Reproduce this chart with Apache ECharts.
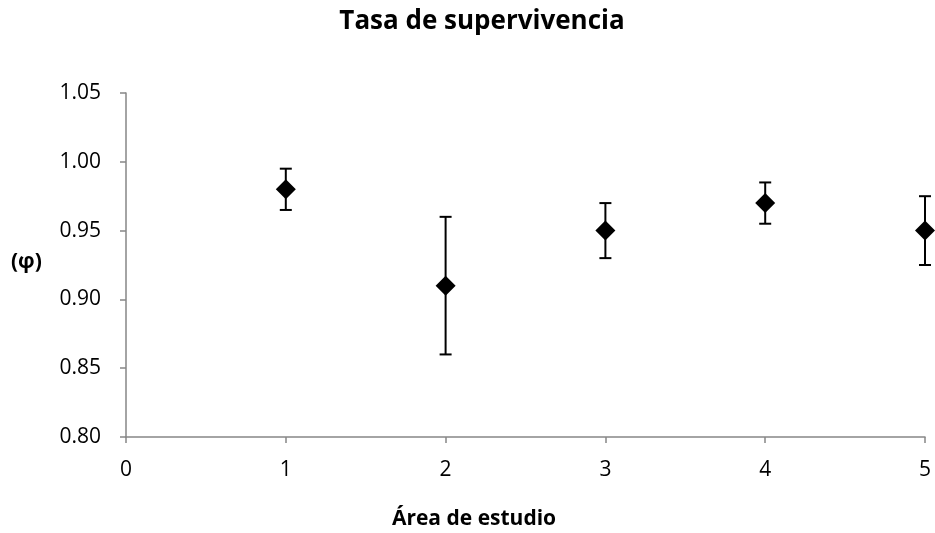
<!DOCTYPE html>
<html>
<head>
<meta charset="utf-8">
<script src="https://cdn.jsdelivr.net/npm/echarts@6/dist/echarts.min.js"></script>
<style>
  html, body { margin: 0; padding: 0; background: #fff; }
  #chart { width: 935px; height: 533px; }
</style>
</head>
<body>
<div id="chart"></div>
<script>
var areas = [1, 2, 3, 4, 5];
var survival = [0.98, 0.91, 0.95, 0.97, 0.95];
var errLow = [0.965, 0.86, 0.93, 0.955, 0.925];
var errHigh = [0.995, 0.96, 0.97, 0.985, 0.975];

var font = '"Open Sans", "Liberation Sans", sans-serif';

var points = [];
var bars = [];
for (var i = 0; i < areas.length; i++) {
    points.push([areas[i], survival[i]]);
    bars.push([areas[i], errLow[i], errHigh[i]]);
}

function renderErrorBar(params, api) {
    var x = api.value(0);
    var lo = api.coord([x, api.value(1)]);
    var hi = api.coord([x, api.value(2)]);
    var half = 6;
    var style = { stroke: '#000', lineWidth: 2 };
    return {
        type: 'group',
        children: [
            { type: 'line', shape: { x1: lo[0], y1: lo[1], x2: hi[0], y2: hi[1] }, style: style },
            { type: 'line', shape: { x1: hi[0] - half, y1: hi[1], x2: hi[0] + half, y2: hi[1] }, style: style },
            { type: 'line', shape: { x1: lo[0] - half, y1: lo[1], x2: lo[0] + half, y2: lo[1] }, style: style }
        ]
    };
}

var chart = echarts.init(document.getElementById('chart'));
var option = {
    animation: false,
    backgroundColor: '#fff',
    title: [
        {
            text: 'Tasa de supervivencia',
            left: 482,
            textAlign: 'center',
            top: 9,
            padding: 0,
            textStyle: { fontFamily: font, fontSize: 26, fontWeight: 'bold', color: '#000' }
        },
        {
            text: 'Área de estudio',
            left: 474,
            textAlign: 'center',
            top: 509,
            padding: 0,
            textStyle: { fontFamily: font, fontSize: 21, fontWeight: 'bold', color: '#000' }
        },
        {
            text: '(φ)',
            left: 11,
            top: 252,
            padding: 0,
            textStyle: { fontFamily: font, fontSize: 21, fontWeight: 'bold', color: '#000' }
        }
    ],
    grid: { left: 126, right: 10, top: 93, bottom: 96 },
    xAxis: {
        type: 'value',
        min: 0,
        max: 5,
        interval: 1,
        splitLine: { show: false },
        axisLine: { lineStyle: { color: '#868686', width: 1.5 } },
        axisTick: { show: true, length: 6, lineStyle: { color: '#868686', width: 1.5 } },
        axisLabel: { fontFamily: font, fontSize: 21, color: '#000', margin: 23 }
    },
    yAxis: {
        type: 'value',
        min: 0.8,
        max: 1.05,
        interval: 0.05,
        splitLine: { show: false },
        axisLine: { show: true, lineStyle: { color: '#868686', width: 1.5 } },
        axisTick: { show: true, length: 6, lineStyle: { color: '#868686', width: 1.5 } },
        axisLabel: {
            fontFamily: font, fontSize: 21, color: '#000', margin: 25,
            formatter: function (v) { return v.toFixed(2); }
        }
    },
    series: [
        {
            type: 'custom',
            renderItem: renderErrorBar,
            data: bars,
            clip: false,
            z: 2
        },
        {
            type: 'scatter',
            data: points,
            symbol: 'diamond',
            symbolSize: [20, 20],
            itemStyle: { color: '#000', opacity: 1 },
            clip: false,
            z: 3
        }
    ]
};
chart.setOption(option);
</script>
</body>
</html>
